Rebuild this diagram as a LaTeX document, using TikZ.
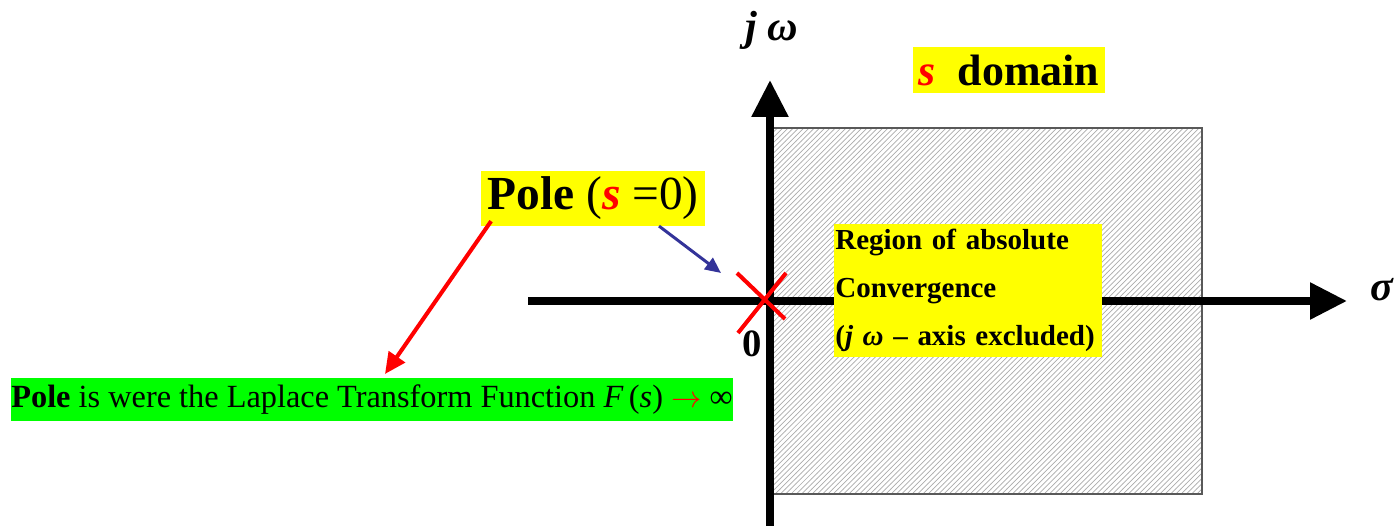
\documentclass[tikz,border=0pt]{standalone}
\usepackage{fontspec}
\setmainfont{Liberation Serif}
\usetikzlibrary{arrows.meta, patterns, calc}
\definecolor{boxyellow}{HTML}{FFFF00}
\definecolor{boxgreen}{HTML}{00FF00}
\definecolor{polered}{HTML}{FF0000}
\definecolor{pointblue}{HTML}{333399}

\begin{document}
\begin{tikzpicture}[x=0.02cm, y=-0.02cm,
  axis/.style={line width=4.5pt, -{Triangle[length=21pt, width=20pt]}},
  hl/.style={fill=boxyellow, inner sep=0pt}]
  \useasboundingbox (0,0) rectangle (1400,526);
  % region of absolute convergence (hatched)
  \fill[white] (770,128) rectangle (1202,494);
  \fill[pattern=north east lines, pattern color=gray!65] (770,128) rectangle (1202,494);
  \draw[gray!70!black, line width=0.6pt] (770,128) rectangle (1202,494);
  % axes
  \coordinate (sigmastart) at (528,301);
  \coordinate (sigmaend) at (1347,301);
  \coordinate (omegastart) at (770,530);
  \coordinate (omegaend) at (770,80);
  \draw[axis] (sigmastart) -- (sigmaend);
  \draw[axis] (omegastart) -- (omegaend);
  \node[font=\bfseries\itshape\fontsize{24}{26}\selectfont] (jw) at (772,30) {j ω};
  \node[font=\bfseries\itshape\fontsize{24}{26}\selectfont] (sigma) at (1382,290) {σ};
  \node[font=\bfseries\fontsize{22}{24}\selectfont] (zero) at (752,344) {0};
  % pole marker
  \draw[polered, line width=2.3pt] (737,273) -- (785,319) (786,273) -- (738,333);
  \coordinate (xmark) at (721,273);
  % labels
  \node[hl, minimum width=109pt, minimum height=26pt] (sdomain) at (1009,70)
    {\fontsize{25}{28}\selectfont\textcolor{polered}{\textbf{\textit{s}}}\ \ \textbf{domain}};
  \node[hl, minimum width=127pt, minimum height=31pt] (polebox) at (593,198.5)
    {\fontsize{27}{30}\selectfont\textbf{Pole} (\textcolor{polered}{\textbf{\textit{s}}} =0)};
  \node[hl, minimum height=75.4pt, text width=151pt, inner xsep=1pt, align=left,
        font=\bfseries\fontsize{16.5}{27.5}\selectfont] (region) at (968,290.5)
    {Region of absolute\\Convergence\\(\textit{j ω} – axis excluded)};
  \node[fill=boxgreen, minimum width=409pt, minimum height=24.4pt, inner sep=0pt,
        font=\fontsize{18.4}{21}\selectfont] (greenbox) at (372,399.5)
    {\textbf{Pole} is were the Laplace Transform Function \textit{F}\,(\textit{s}) \textcolor{polered}{$\rightarrow$} ∞};
  \coordinate (redtip) at (385,374);
  % pointers
  \draw[pointblue, line width=1.7pt, -{Triangle[length=9pt, width=8pt]}]
    ($(polebox.south)!0.59!(polebox.south east)$) -- (xmark);
  \draw[polered, line width=2.3pt, -{Triangle[length=12pt, width=11pt]}]
    ([xshift=5.7pt, yshift=2.8pt]polebox.south west) -- (redtip);
\end{tikzpicture}
\end{document}
